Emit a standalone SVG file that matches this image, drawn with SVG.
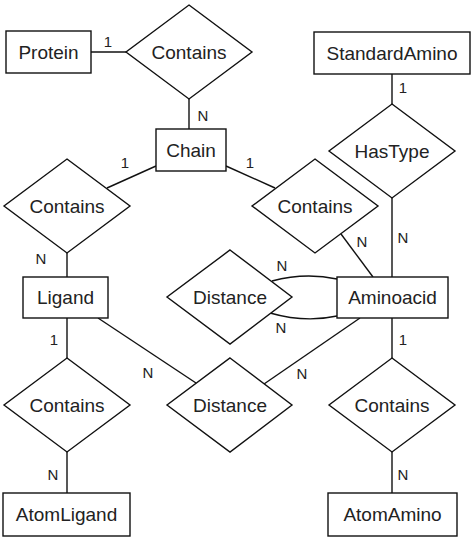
<svg xmlns="http://www.w3.org/2000/svg" width="475" height="543" viewBox="0 0 475 543">
<style>
.box{fill:#fff;stroke:#111;stroke-width:1.4}
.dia{fill:#fff;stroke:#111;stroke-width:1.4}
.ln{fill:none;stroke:#111;stroke-width:1.4}
.t{font-family:"Liberation Sans",Arial,sans-serif;font-size:19px;fill:#222;text-anchor:middle}
.c{font-family:"Liberation Sans",Arial,sans-serif;font-size:15px;fill:#222;text-anchor:middle}
</style>
<rect width="475" height="543" fill="#fff"/>
<g id="connectors">
<line class="ln" x1="91" y1="52" x2="126" y2="52"/>
<line class="ln" x1="189" y1="99" x2="189" y2="129"/>
<line class="ln" x1="392" y1="74" x2="392" y2="104"/>
<line class="ln" x1="392" y1="198" x2="392" y2="277"/>
<line class="ln" x1="156" y1="166" x2="107" y2="188"/>
<line class="ln" x1="226" y1="166" x2="275" y2="188"/>
<line class="ln" x1="67" y1="253" x2="67" y2="277"/>
<line class="ln" x1="341" y1="234" x2="373" y2="277"/>
<path class="ln" d="M272,281 Q305,272 337,279"/>
<path class="ln" d="M270,313 Q305,323 337,316"/>
<line class="ln" x1="98" y1="318" x2="196" y2="383"/>
<line class="ln" x1="360" y1="318" x2="264" y2="384"/>
<line class="ln" x1="67" y1="318" x2="67" y2="358"/>
<line class="ln" x1="67" y1="452" x2="67" y2="493"/>
<line class="ln" x1="392" y1="318" x2="392" y2="358"/>
<line class="ln" x1="392" y1="452" x2="392" y2="493"/>
<text class="c" x="108" y="47">1</text>
<text class="c" x="203" y="121">N</text>
<text class="c" x="125" y="168">1</text>
<text class="c" x="250" y="168">1</text>
<text class="c" x="403" y="93">1</text>
<text class="c" x="403" y="243">N</text>
<text class="c" x="362" y="247">N</text>
<text class="c" x="41" y="264">N</text>
<text class="c" x="282" y="271">N</text>
<text class="c" x="281" y="333">N</text>
<text class="c" x="54" y="345">1</text>
<text class="c" x="403" y="345">1</text>
<text class="c" x="148" y="378">N</text>
<text class="c" x="302" y="379">N</text>
<text class="c" x="53" y="480">N</text>
<text class="c" x="403" y="480">N</text>
</g>
<g id="protein"><rect class="box" x="6" y="31" width="85" height="42"/><text class="t" x="48.5" y="59">Protein</text></g>
<g id="contains-protein-chain"><polygon class="dia" points="189,5 252,52 189,99 126,52"/><text class="t" x="189" y="59">Contains</text></g>
<g id="chain"><rect class="box" x="156" y="129" width="70" height="42"/><text class="t" x="191" y="157">Chain</text></g>
<g id="standardamino"><rect class="box" x="314" y="32" width="156" height="42"/><text class="t" x="392" y="60">StandardAmino</text></g>
<g id="hastype"><polygon class="dia" points="392,104 455,151 392,198 329,151"/><text class="t" x="392" y="158">HasType</text></g>
<g id="contains-chain-ligand"><polygon class="dia" points="67,159 130,206 67,253 4,206"/><text class="t" x="67" y="213">Contains</text></g>
<g id="contains-chain-amino"><polygon class="dia" points="315,159 378,206 315,253 252,206"/><text class="t" x="315" y="213">Contains</text></g>
<g id="ligand"><rect class="box" x="23" y="277" width="85" height="41"/><text class="t" x="65.5" y="304">Ligand</text></g>
<g id="distance-amino"><polygon class="dia" points="230,250 292,297 230,344 167,297"/><text class="t" x="230" y="304">Distance</text></g>
<g id="aminoacid"><rect class="box" x="337" y="277" width="111" height="41"/><text class="t" x="392.5" y="304">Aminoacid</text></g>
<g id="contains-ligand-atom"><polygon class="dia" points="67,358 130,405 67,452 4,405"/><text class="t" x="67" y="412">Contains</text></g>
<g id="distance-ligand-amino"><polygon class="dia" points="230,358 292,405 230,452 167,405"/><text class="t" x="230" y="412">Distance</text></g>
<g id="contains-amino-atom"><polygon class="dia" points="392,358 455,405 392,452 329,405"/><text class="t" x="392" y="412">Contains</text></g>
<g id="atomligand"><rect class="box" x="3" y="493" width="127" height="43"/><text class="t" x="66.5" y="521">AtomLigand</text></g>
<g id="atomamino"><rect class="box" x="328" y="493" width="129" height="43"/><text class="t" x="392.5" y="521">AtomAmino</text></g>
</svg>
